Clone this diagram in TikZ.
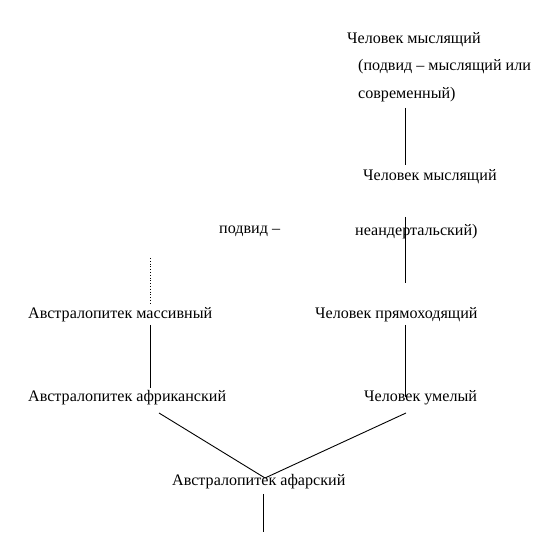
\documentclass[tikz,border=0pt]{standalone}
\usepackage{fontspec}
\setmainfont{Liberation Serif}
\begin{document}
\begin{tikzpicture}[x=1pt,y=-1pt,
  lbl/.style={anchor=west,inner sep=0pt,font=\fontsize{16.1}{18}\selectfont},
  link/.style={draw=black,line width=0.9pt}]
\useasboundingbox (0,0) rectangle (555,553);
\node[lbl] (sap) at (347,39.5) {Человек мыслящий};
\node[lbl] (sap2) at (358,66.5) {(подвид – мыслящий или};
\node[lbl] (sap3) at (358,94.5) {современный)};
\node[lbl] (nea) at (363,176.5) {Человек мыслящий};
\node[lbl] (nea2) at (219,231.5) {подвид –};
\node[lbl] (nea3) at (355,231.5) {неандертальский)};
\node[lbl] (mas) at (28,314.5) {Австралопитек массивный};
\node[lbl] (ere) at (315,314.5) {Человек прямоходящий};
\node[lbl] (afr) at (28,397.5) {Австралопитек африканский};
\node[lbl] (hab) at (364,397.5) {Человек умелый};
\node[lbl] (afa) at (172,481.5) {Австралопитек афарский};
\coordinate (c1) at (405,108);
\coordinate (c2) at (405,165);
\coordinate (c3) at (405,217);
\coordinate (c4) at (405,283);
\coordinate (d1) at (150,258);
\coordinate (d2) at (150,305);
\coordinate (m1) at (150,325);
\coordinate (m2) at (150,388);
\coordinate (e1) at (405,325);
\coordinate (e2) at (405,397);
\coordinate (l1) at (159,413);
\coordinate (r1) at (406,413);
\coordinate (j) at (265,478);
\coordinate (b1) at (263,494);
\coordinate (b2) at (263,532);
\draw[link] (c1) -- (c2);
\draw[link] (c3) -- (c4);
\draw[draw=black,line width=0.8pt,dotted] (d1) -- (d2);
\draw[link] (m1) -- (m2);
\draw[link] (e1) -- (e2);
\draw[link] (l1) -- (j);
\draw[link] (r1) -- (j);
\draw[link] (b1) -- (b2);
\end{tikzpicture}
\end{document}
